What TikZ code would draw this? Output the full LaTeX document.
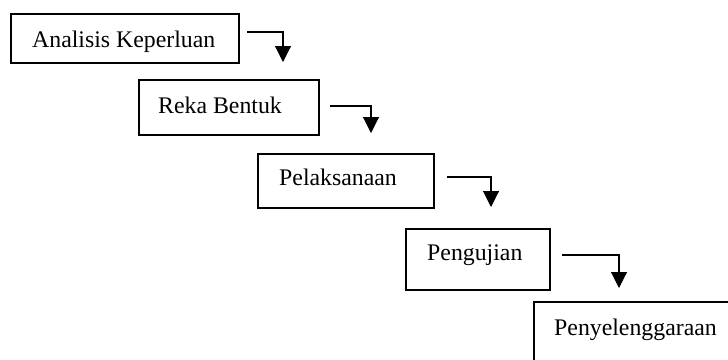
\documentclass[tikz,border=0pt]{standalone}
\usepackage{fontspec}
\setmainfont{Liberation Serif}
\usetikzlibrary{arrows.meta}
\begin{document}
\begin{tikzpicture}[x=1pt,y=-1pt,
  box/.style={draw=black, line width=1.6pt, rectangle, inner sep=0pt, anchor=north west},
  txt/.style={anchor=base west, inner sep=0pt, font=\fontsize{23.8}{28}\selectfont},
  arr/.style={draw=black, line width=1.1pt, -{Triangle[width=16pt,length=16pt]}}]
\useasboundingbox (0,0) rectangle (728,359);
\fill[white] (0,0) rectangle (728,359);
\clip (0,0) rectangle (728,359);
% boxes
\node[box, minimum width=228pt, minimum height=49pt] (b1) at (10,13) {};
\node[box, minimum width=180pt, minimum height=55pt] (b2) at (138,79) {};
\node[box, minimum width=176pt, minimum height=54pt] (b3) at (257,153) {};
\node[box, minimum width=144pt, minimum height=61pt] (b4) at (405,228) {};
\node[box, minimum width=220pt, minimum height=80pt] (b5) at (533,301) {};
% texts
\node[txt] (t1) at (32,47) {Analisis Keperluan};
\node[txt] (t2) at (158,113) {Reka Bentuk};
\node[txt] (t3) at (279,185) {Pelaksanaan};
\node[txt] (t4) at (427,260) {Pengujian};
\node[txt] (t5) at (554,335) {Penyelenggaraan};
% arrows
\coordinate (a1s) at (247,32);  \coordinate (a1e) at (283,62);
\coordinate (a2s) at (330,106); \coordinate (a2e) at (371,133);
\coordinate (a3s) at (447,177); \coordinate (a3e) at (491,207);
\coordinate (a4s) at (562,255); \coordinate (a4e) at (619,288);
\draw[arr] (a1s) -| (a1e);
\draw[arr] (a2s) -| (a2e);
\draw[arr] (a3s) -| (a3e);
\draw[arr] (a4s) -| (a4e);
\end{tikzpicture}
\end{document}
